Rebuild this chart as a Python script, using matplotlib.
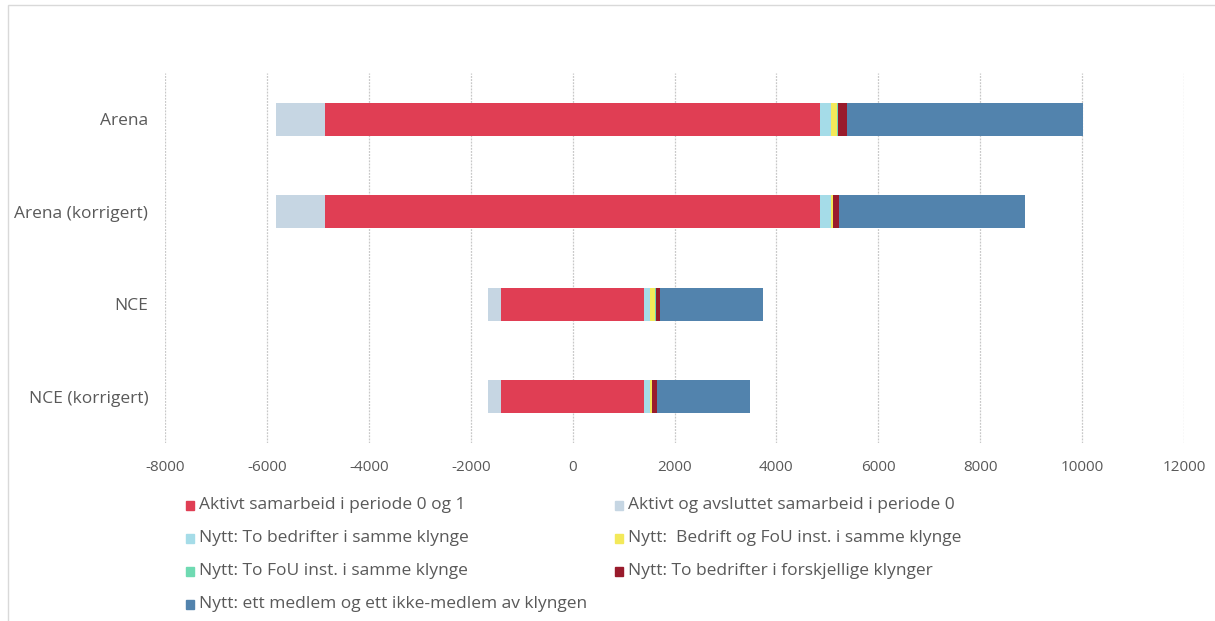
import matplotlib
matplotlib.use("Agg")
import matplotlib.pyplot as plt
from matplotlib.patches import Rectangle
import numpy as np

plt.rcParams["font.family"] = ["Open Sans", "DejaVu Sans"]
plt.rcParams["axes.unicode_minus"] = False

categories = ["Arena", "Arena (korrigert)", "NCE", "NCE (korrigert)"]

# Values
aktivt_0_og_1 = [9700, 9700, 2800, 2800]       # centred on zero
avsluttet_0 = [980, 980, 270, 270]             # left of the red bar
to_bedrifter_samme = [215, 215, 120, 120]
bedrift_fou_samme = [120, 40, 95, 40]
to_fou_samme = [20, 5, 20, 5]
to_bedrifter_forskjellige = [175, 120, 80, 90]
medlem_ikke_medlem = [4630, 3640, 2015, 1820]

labels = [
    "Aktivt samarbeid i periode 0 og 1",
    "Aktivt og avsluttet samarbeid i periode 0",
    "Nytt: To bedrifter i samme klynge",
    "Nytt:  Bedrift og FoU inst. i samme klynge",
    "Nytt: To FoU inst. i samme klynge",
    "Nytt: To bedrifter i forskjellige klynger",
    "Nytt: ett medlem og ett ikke-medlem av klyngen",
]
colors = ["#E03E54", "#C6D6E3", "#A5DCE8", "#F3E95A",
          "#6FDAB2", "#991B2C", "#5283AD"]

TEXT = "#595959"

fig = plt.figure(figsize=(12.15, 6.21), dpi=100)
ax = fig.add_axes([165 / 1215, 1 - 443 / 621, (1184 - 165) / 1215, 370 / 621])

y = np.arange(len(categories))
h = 0.36
red = np.array(aktivt_0_og_1, dtype=float)
lb = np.array(avsluttet_0, dtype=float)

ax.barh(y, red, left=-red / 2, height=h, color=colors[0], zorder=3)
ax.barh(y, lb, left=-red / 2 - lb, height=h, color=colors[1], zorder=3)

left = red / 2
for vals, c in zip([to_bedrifter_samme, bedrift_fou_samme, to_fou_samme,
                    to_bedrifter_forskjellige, medlem_ikke_medlem], colors[2:]):
    vals = np.array(vals, dtype=float)
    ax.barh(y, vals, left=left, height=h, color=c, zorder=3)
    left = left + vals

ax.set_xlim(-8000, 12000)
ax.set_ylim(3.5, -0.5)
ax.set_xticks(np.arange(-8000, 12001, 2000))
ax.set_yticks(y)
ax.set_yticklabels(categories, fontsize=12.5)
ax.tick_params(axis="both", length=0, colors=TEXT)
ax.tick_params(axis="x", pad=12, labelsize=11)
ax.tick_params(axis="y", pad=12)
ax.grid(axis="x", color="#C8C8C8", linestyle=(0, (1.5, 1)), linewidth=0.9, zorder=0)
for s in ax.spines.values():
    s.set_visible(False)

# Legend drawn by hand, two columns
rows_y = [505, 538, 571, 604]
col_x = [186, 615]
for i, (lab, c) in enumerate(zip(labels, colors)):
    r, col = divmod(i, 2)
    px, py = col_x[col], rows_y[r]
    fig.patches.append(Rectangle((px / 1215, 1 - (py + 4.5) / 621), 8 / 1215, 9 / 621,
                                 transform=fig.transFigure, color=c))
    fig.text((px + 13) / 1215, 1 - py / 621, lab, color=TEXT, fontsize=12.5,
             va="center", ha="left")

# Chart frame
fig.patches.append(Rectangle((8 / 1215, -0.1), 1.2, 1 - 5 / 621 + 0.1,
                             transform=fig.transFigure, fill=False,
                             edgecolor="#D9D9D9", linewidth=1))

fig.savefig("out.png", dpi=100)
